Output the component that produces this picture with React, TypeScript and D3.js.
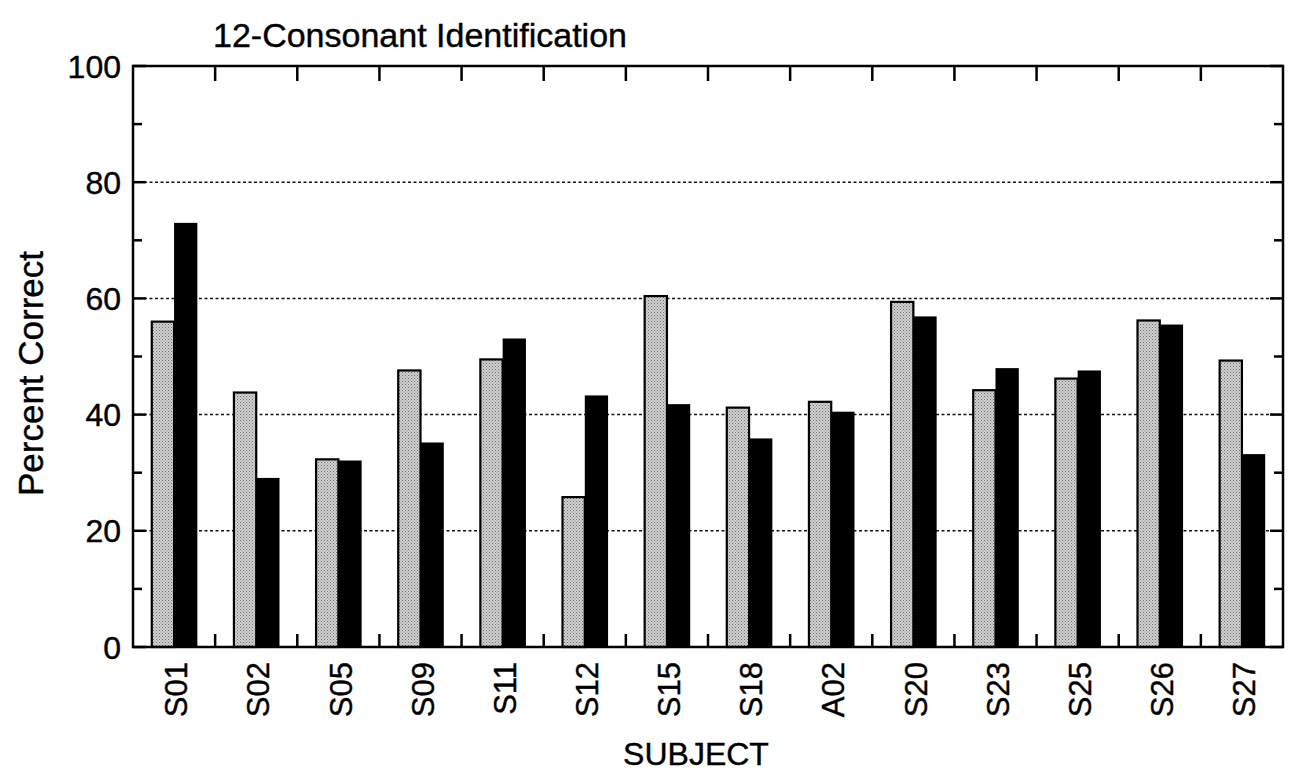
import * as d3 from "d3";
import { useEffect, useRef } from "react";

const subjects = ["S01", "S02", "S05", "S09", "S11", "S12", "S15", "S18", "A02", "S20", "S23", "S25", "S26", "S27"];
const grayValues = [56.0, 43.8, 32.3, 47.6, 49.5, 25.8, 60.4, 41.2, 42.2, 59.4, 44.2, 46.2, 56.2, 49.3];
const blackValues = [73.0, 29.1, 32.1, 35.2, 53.1, 43.3, 41.8, 35.9, 40.5, 56.9, 48.0, 47.6, 55.5, 33.2];
const yTicks = [0, 20, 40, 60, 80, 100];
const yMinorTicks = [10, 30, 50, 70, 90];
const gridTicks = [20, 40, 60, 80];

const W = 1293;
const H = 772;
const FONT = "'Liberation Sans', Arial, Helvetica, sans-serif";

export default function App() {
  const ref = useRef<SVGSVGElement>(null);

  useEffect(() => {
    if (!ref.current) return;
    const el = ref.current;
    d3.select(el).selectAll("*").remove();

    const left = 133;
    const right = 1283;
    const top = 66;
    const bottom = 647;

    const svg = d3.select(el).attr("width", W).attr("height", H).attr("viewBox", `0 0 ${W} ${H}`);

    // stippled gray fill
    const pat = svg
      .append("defs")
      .append("pattern")
      .attr("id", "stipple")
      .attr("width", 3)
      .attr("height", 3)
      .attr("patternUnits", "userSpaceOnUse");
    pat.append("rect").attr("width", 3).attr("height", 3).attr("fill", "#d2d2d2");
    pat.append("rect").attr("x", 0).attr("y", 0).attr("width", 1).attr("height", 1).attr("fill", "#6e6e6e");
    pat.append("rect").attr("x", 1.5).attr("y", 1.5).attr("width", 1).attr("height", 1).attr("fill", "#808080");

    const x = d3.scaleBand().domain(subjects).range([left, right]).padding(0);
    const inner = d3.scaleBand().domain(["a", "b"]).range([0, x.bandwidth()]).paddingInner(0).paddingOuter(0.764);
    const y = d3.scaleLinear().domain([0, 100]).range([bottom, top]);

    // grid lines
    svg
      .append("g")
      .selectAll("line")
      .data(gridTicks)
      .join("line")
      .attr("x1", left)
      .attr("x2", right)
      .attr("y1", d => y(d))
      .attr("y2", d => y(d))
      .attr("stroke", "#111")
      .attr("stroke-width", 1.5)
      .attr("stroke-dasharray", "3 2.5");

    const rows = subjects.map((s, i) => ({ s, gray: grayValues[i], black: blackValues[i] }));

    // gray bars
    svg
      .append("g")
      .selectAll("rect")
      .data(rows)
      .join("rect")
      .attr("x", d => x(d.s)! + inner("a")! + 1)
      .attr("y", d => y(d.gray))
      .attr("width", inner.bandwidth() - 1)
      .attr("height", d => y(0) - y(d.gray))
      .attr("fill", "url(#stipple)")
      .attr("stroke", "#000")
      .attr("stroke-width", 2.2);

    // black bars
    svg
      .append("g")
      .selectAll("rect")
      .data(rows)
      .join("rect")
      .attr("x", d => x(d.s)! + inner("b")!)
      .attr("y", d => y(d.black))
      .attr("width", inner.bandwidth())
      .attr("height", d => y(0) - y(d.black))
      .attr("fill", "#000");

    // frame
    svg
      .append("rect")
      .attr("x", left)
      .attr("y", top)
      .attr("width", right - left)
      .attr("height", bottom - top)
      .attr("fill", "none")
      .attr("stroke", "#000")
      .attr("stroke-width", 2.5);

    const ticks = svg.append("g").attr("stroke", "#000").attr("stroke-width", 2.5);
    // left / right major and minor ticks
    [
      { v: yTicks, len: 13 },
      { v: yMinorTicks, len: 9 },
    ].forEach(({ v, len }) => {
      ticks
        .selectAll(null)
        .data(v)
        .join("line")
        .attr("x1", left)
        .attr("x2", left + len)
        .attr("y1", d => y(d))
        .attr("y2", d => y(d));
      ticks
        .selectAll(null)
        .data(v)
        .join("line")
        .attr("x1", right)
        .attr("x2", right - len)
        .attr("y1", d => y(d))
        .attr("y2", d => y(d));
    });
    // group separator ticks, top and bottom
    const seps = subjects.slice(1);
    ticks
      .selectAll(null)
      .data(seps)
      .join("line")
      .attr("x1", d => x(d)!)
      .attr("x2", d => x(d)!)
      .attr("y1", top)
      .attr("y2", top + 15);
    ticks
      .selectAll(null)
      .data(seps)
      .join("line")
      .attr("x1", d => x(d)!)
      .attr("x2", d => x(d)!)
      .attr("y1", bottom)
      .attr("y2", bottom - 13);

    const textStyle = (sel: d3.Selection<any, any, any, any>) =>
      sel.attr("font-family", FONT).attr("fill", "#000").attr("stroke", "#000").attr("stroke-width", 0.4);

    // y tick labels
    svg
      .append("g")
      .selectAll("text")
      .data(yTicks)
      .join("text")
      .attr("x", left - 12)
      .attr("y", d => y(d))
      .attr("dy", "0.36em")
      .attr("text-anchor", "end")
      .attr("font-size", 32)
      .call(textStyle)
      .text(d => d);

    // x labels
    svg
      .append("g")
      .selectAll("text")
      .data(subjects)
      .join("text")
      .attr("transform", d => `translate(${x(d)! + x.bandwidth() / 2 + 2},${bottom + 15}) rotate(-90)`)
      .attr("dy", "0.36em")
      .attr("text-anchor", "end")
      .attr("font-size", 31)
      .call(textStyle)
      .text(d => d);

    // title
    svg
      .append("text")
      .attr("x", 213)
      .attr("y", 47)
      .attr("font-size", 34)
      .call(textStyle)
      .text("12-Consonant Identification");

    // y axis title
    svg
      .append("text")
      .attr("transform", `translate(43,${(top + bottom) / 2 + 17}) rotate(-90)`)
      .attr("text-anchor", "middle")
      .attr("font-size", 35)
      .call(textStyle)
      .text("Percent Correct");

    // x axis title
    svg
      .append("text")
      .attr("x", 696)
      .attr("y", 765)
      .attr("text-anchor", "middle")
      .attr("font-size", 32)
      .call(textStyle)
      .text("SUBJECT");
  }, []);

  return <svg ref={ref} style={{ position: "absolute", left: 0, top: 0, display: "block", background: "#fff" }} />;
}
